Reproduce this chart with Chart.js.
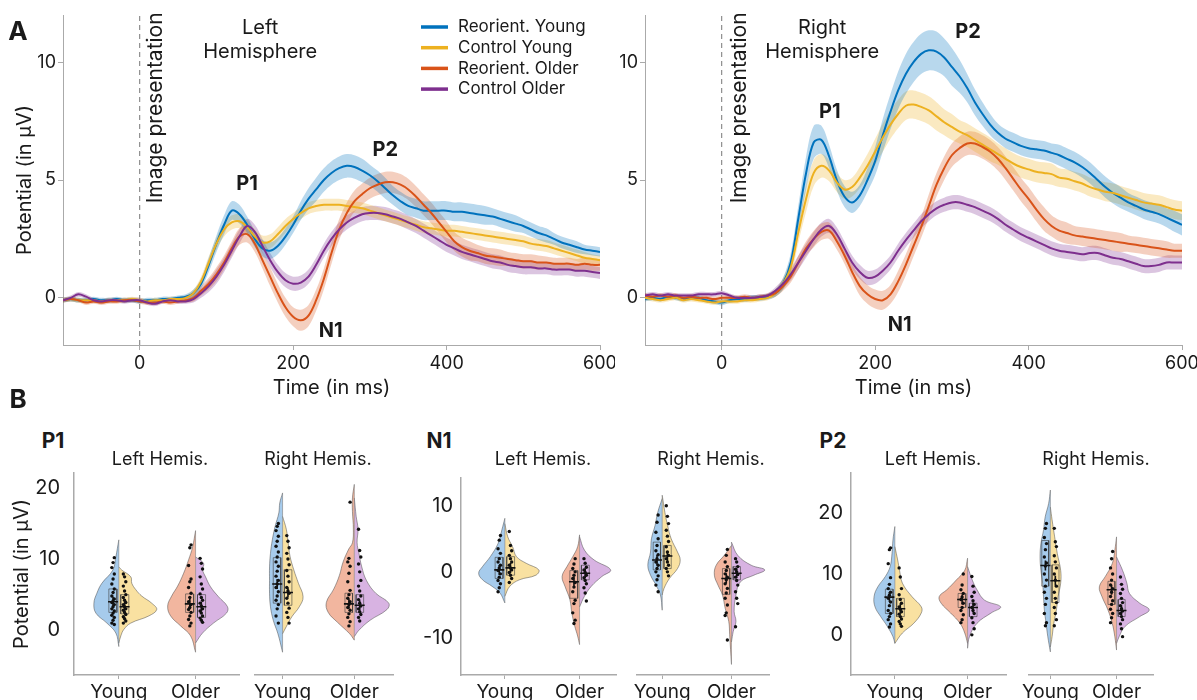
<!DOCTYPE html>
<html>
<head>
<meta charset="utf-8">
<script src="https://cdn.jsdelivr.net/npm/chart.js@4.4.1/dist/chart.umd.min.js"></script>
<style>
  body { margin: 0; background: #fff; font-family: Inter, "Noto Sans", sans-serif; }
  #fig { position: relative; width: 1197px; height: 700px; overflow: hidden; }
  canvas { position: absolute; }
  .lbl { position: absolute; color: #1a1a1a; white-space: nowrap; transform: translate(-50%, -50%); }
  .big { font-size: 26px; font-weight: 700; }
  .peak { font-size: 21px; font-weight: 700; }
  .hem { font-size: 18px; }
</style>
</head>
<body>
<div id="fig">
  <canvas id="waveL" width="615" height="400" style="left:0;top:0"></canvas>
  <canvas id="waveR" width="597" height="400" style="left:600px;top:0"></canvas>

  <canvas id="p1L" width="246" height="235" style="left:0;top:465px"></canvas>
  <canvas id="p1R" width="152" height="235" style="left:248px;top:465px"></canvas>
  <canvas id="n1L" width="213" height="235" style="left:410px;top:465px"></canvas>
  <canvas id="n1R" width="146" height="235" style="left:630px;top:465px"></canvas>
  <canvas id="p2L" width="208" height="235" style="left:805px;top:465px"></canvas>
  <canvas id="p2R" width="138" height="235" style="left:1022px;top:465px"></canvas>

  <div class="lbl big" style="left:18px;top:30px">A</div>
  <div class="lbl big" style="left:18px;top:398px">B</div>
  <div class="lbl peak" style="left:53px;top:440px">P1</div>
  <div class="lbl peak" style="left:439px;top:440px">N1</div>
  <div class="lbl peak" style="left:833px;top:440px">P2</div>
  <div class="lbl hem" style="left:160px;top:458px">Left Hemis.</div>
  <div class="lbl hem" style="left:318px;top:458px">Right Hemis.</div>
  <div class="lbl hem" style="left:543px;top:458px">Left Hemis.</div>
  <div class="lbl hem" style="left:711px;top:458px">Right Hemis.</div>
  <div class="lbl hem" style="left:933px;top:458px">Left Hemis.</div>
  <div class="lbl hem" style="left:1096px;top:458px">Right Hemis.</div>
</div>

<script>
// ---------- panel A : grand averages ----------
const times = [-100,-90,-80,-70,-60,-50,-40,-30,-20,-10,
  0,10,20,30,40,50,60,70,80,90,
  100,110,120,130,140,150,160,170,180,190,
  200,210,220,230,240,250,260,270,280,290,
  300,310,320,330,340,350,360,370,380,390,
  400,410,420,430,440,450,460,470,480,490,
  500,510,520,530,540,550,560,570,580,590,
  600];

const condNames = ['Reorient. Young', 'Control Young', 'Reorient. Older', 'Control Older'];
const onsetTime = 0;

// left hemisphere
const leftReorYoung = [-0.1,-0.05,-0.1,-0.1,-0.05,-0.1,-0.1,-0.05,-0.1,-0.1,
  -0.15,-0.1,-0.1,-0.05,-0.05,0,0.05,0.2,0.6,1.4,
  2.3,3.1,3.7,3.55,3.1,2.5,2.1,2.0,2.2,2.6,
  3.1,3.7,4.2,4.6,5.0,5.3,5.5,5.6,5.55,5.4,
  5.2,4.95,4.65,4.35,4.1,3.9,3.8,3.7,3.7,3.7,
  3.7,3.65,3.65,3.6,3.55,3.5,3.45,3.35,3.25,3.15,
  3.05,2.9,2.75,2.65,2.5,2.35,2.25,2.15,2.05,2.0,
  1.95];
const leftCtrlYoung = [-0.1,-0.05,-0.1,-0.1,-0.1,-0.15,-0.1,-0.1,-0.1,-0.05,
  -0.1,-0.15,-0.1,-0.1,-0.05,-0.05,0,0.2,0.7,1.5,
  2.3,2.9,3.2,3.25,3.0,2.6,2.35,2.4,2.7,3.05,
  3.35,3.6,3.8,3.9,3.95,3.95,3.95,3.9,3.85,3.8,
  3.7,3.6,3.5,3.4,3.3,3.2,3.1,3.0,2.95,2.9,
  2.85,2.85,2.8,2.75,2.7,2.65,2.6,2.55,2.5,2.45,
  2.4,2.3,2.25,2.2,2.1,2.0,1.9,1.8,1.7,1.65,
  1.6];
const leftReorOlder = [-0.1,-0.05,-0.1,-0.2,-0.15,-0.2,-0.15,-0.15,-0.1,-0.1,
  -0.15,-0.2,-0.2,-0.15,-0.2,-0.15,-0.1,0.0,0.3,0.6,
  1.0,1.5,2.1,2.6,2.7,2.3,1.6,0.9,0.2,-0.4,
  -0.8,-0.95,-0.75,-0.1,0.8,1.9,2.9,3.6,4.1,4.4,
  4.65,4.8,4.9,4.9,4.8,4.6,4.3,3.95,3.6,3.2,
  2.8,2.4,2.15,2.0,1.9,1.8,1.75,1.7,1.65,1.6,
  1.55,1.55,1.5,1.5,1.45,1.45,1.45,1.4,1.45,1.4,
  1.4];
const leftCtrlOlder = [-0.1,0.0,0.15,0.05,-0.1,-0.15,-0.1,-0.1,-0.15,-0.1,
  -0.1,-0.2,-0.25,-0.15,-0.1,-0.15,-0.15,-0.05,0.2,0.5,
  0.9,1.4,2.0,2.6,3.05,2.8,2.2,1.6,1.1,0.75,
  0.6,0.65,0.9,1.4,2.0,2.5,2.9,3.2,3.4,3.55,
  3.6,3.6,3.55,3.45,3.35,3.2,3.05,2.85,2.65,2.45,
  2.25,2.1,1.95,1.85,1.75,1.65,1.55,1.5,1.4,1.35,
  1.3,1.3,1.25,1.25,1.2,1.2,1.2,1.15,1.15,1.1,
  1.05];

// right hemisphere
const rightReorYoung = [-0.05,0.0,-0.05,0.05,0.0,-0.05,0.0,0.0,-0.1,-0.15,
  -0.2,-0.1,-0.05,-0.05,0.0,0.0,0.05,0.2,0.6,1.5,
  3.4,5.3,6.6,6.7,6.0,5.0,4.3,4.05,4.35,5.0,
  5.8,6.9,7.9,8.8,9.5,10.0,10.35,10.5,10.45,10.2,
  9.8,9.4,8.9,8.3,7.8,7.35,7.0,6.75,6.6,6.45,
  6.35,6.3,6.25,6.15,6.05,5.9,5.75,5.55,5.3,5.0,
  4.7,4.45,4.25,4.05,3.9,3.75,3.65,3.55,3.4,3.25,
  3.1];
const rightCtrlYoung = [0.0,-0.05,-0.1,-0.05,0.0,-0.1,-0.05,-0.1,-0.15,-0.2,
  -0.15,-0.15,-0.15,-0.1,-0.1,-0.05,0.0,0.2,0.6,1.3,
  2.8,4.2,5.3,5.6,5.4,4.9,4.6,4.7,5.1,5.6,
  6.2,6.8,7.35,7.8,8.15,8.2,8.1,7.95,7.7,7.45,
  7.25,7.05,6.9,6.7,6.5,6.3,6.1,5.9,5.7,5.55,
  5.45,5.35,5.3,5.25,5.1,5.05,4.95,4.85,4.7,4.6,
  4.5,4.45,4.35,4.25,4.15,4.05,4.0,3.95,3.85,3.75,
  3.7];
const rightReorOlder = [0.1,0.05,0.1,0.05,0.1,0.0,0.05,0.0,0.0,-0.05,
  0.0,0.0,0.0,0.05,0.0,0.05,0.1,0.2,0.5,0.9,
  1.5,2.1,2.5,2.8,2.85,2.4,1.8,1.1,0.5,0.15,
  -0.05,-0.1,0.15,0.7,1.4,2.2,3.0,3.9,4.8,5.5,
  6.05,6.35,6.55,6.55,6.4,6.2,5.9,5.5,5.05,4.6,
  4.2,3.75,3.35,3.05,2.85,2.75,2.65,2.6,2.55,2.5,
  2.45,2.4,2.35,2.3,2.25,2.2,2.15,2.1,2.05,2.0,
  2.0];
const rightCtrlOlder = [0.1,0.15,0.1,0.15,0.1,0.1,0.1,0.15,0.15,0.15,
  0.2,0.1,0.0,0.0,0.0,0.05,0.1,0.3,0.6,1.0,
  1.5,2.0,2.5,2.9,3.05,2.7,2.1,1.5,1.1,0.85,
  0.9,1.15,1.5,2.0,2.45,2.85,3.25,3.55,3.8,3.95,
  4.05,4.05,3.95,3.85,3.7,3.55,3.35,3.1,2.9,2.7,
  2.55,2.4,2.25,2.1,2.0,1.95,1.9,1.85,1.9,1.9,
  1.8,1.7,1.65,1.55,1.45,1.35,1.35,1.4,1.5,1.5,
  1.5];

// standard errors (half width of the shaded bands)
const leftReorYoungSE = [0.1,0.1,0.1,0.1,0.1,0.1,0.1,0.1,0.1,0.1,
  0.1,0.1,0.1,0.1,0.1,0.1,0.1,0.15,0.2,0.3,
  0.35,0.4,0.4,0.4,0.35,0.35,0.35,0.35,0.35,0.35,
  0.35,0.4,0.45,0.5,0.5,0.5,0.5,0.5,0.5,0.5,
  0.45,0.45,0.45,0.4,0.4,0.4,0.4,0.4,0.4,0.4,
  0.4,0.4,0.4,0.4,0.4,0.4,0.35,0.35,0.35,0.35,
  0.3,0.3,0.3,0.3,0.25,0.25,0.25,0.25,0.2,0.2,
  0.2];
const leftCtrlYoungSE = [0.1,0.1,0.1,0.1,0.1,0.1,0.1,0.1,0.1,0.1,
  0.1,0.1,0.1,0.1,0.1,0.1,0.1,0.15,0.2,0.25,
  0.25,0.3,0.3,0.3,0.3,0.3,0.3,0.3,0.3,0.3,
  0.25,0.25,0.25,0.25,0.25,0.25,0.25,0.25,0.25,0.25,
  0.25,0.25,0.25,0.25,0.25,0.25,0.25,0.25,0.25,0.25,
  0.25,0.25,0.25,0.25,0.25,0.25,0.25,0.25,0.25,0.25,
  0.25,0.25,0.25,0.25,0.25,0.25,0.25,0.25,0.25,0.2,
  0.2];
const leftReorOlderSE = [0.1,0.1,0.1,0.1,0.1,0.1,0.1,0.1,0.1,0.1,
  0.1,0.1,0.1,0.1,0.1,0.1,0.1,0.15,0.2,0.25,
  0.3,0.3,0.3,0.35,0.35,0.35,0.35,0.4,0.4,0.4,
  0.4,0.45,0.45,0.45,0.45,0.45,0.45,0.45,0.45,0.45,
  0.45,0.45,0.45,0.45,0.45,0.45,0.45,0.45,0.45,0.45,
  0.45,0.4,0.4,0.4,0.35,0.35,0.35,0.35,0.3,0.3,
  0.3,0.3,0.3,0.25,0.25,0.25,0.25,0.25,0.25,0.25,
  0.25];
const leftCtrlOlderSE = [0.1,0.1,0.1,0.1,0.1,0.1,0.1,0.1,0.1,0.1,
  0.1,0.1,0.1,0.1,0.1,0.1,0.1,0.15,0.2,0.25,
  0.3,0.3,0.3,0.3,0.3,0.3,0.3,0.3,0.3,0.3,
  0.3,0.3,0.3,0.3,0.3,0.3,0.3,0.3,0.3,0.3,
  0.3,0.3,0.3,0.3,0.3,0.3,0.3,0.3,0.3,0.3,
  0.3,0.3,0.3,0.3,0.3,0.3,0.3,0.3,0.3,0.3,
  0.3,0.3,0.25,0.25,0.25,0.25,0.25,0.25,0.25,0.25,
  0.25];
const rightReorYoungSE = [0.1,0.1,0.1,0.1,0.1,0.1,0.1,0.1,0.1,0.1,
  0.12,0.12,0.12,0.12,0.12,0.12,0.12,0.15,0.25,0.4,
  0.55,0.7,0.7,0.6,0.5,0.45,0.45,0.45,0.45,0.5,
  0.6,0.7,0.75,0.8,0.85,0.85,0.85,0.85,0.85,0.8,
  0.8,0.7,0.6,0.55,0.5,0.45,0.4,0.4,0.4,0.4,
  0.4,0.4,0.4,0.4,0.45,0.45,0.45,0.45,0.45,0.45,
  0.45,0.45,0.45,0.4,0.4,0.4,0.4,0.4,0.4,0.45,
  0.45];
const rightCtrlYoungSE = [0.1,0.1,0.1,0.1,0.1,0.1,0.1,0.1,0.1,0.1,
  0.1,0.1,0.1,0.1,0.1,0.1,0.1,0.15,0.25,0.35,
  0.45,0.55,0.55,0.5,0.45,0.4,0.4,0.4,0.45,0.5,
  0.55,0.6,0.6,0.6,0.6,0.6,0.6,0.6,0.6,0.55,
  0.55,0.5,0.5,0.5,0.5,0.5,0.45,0.45,0.45,0.45,
  0.45,0.45,0.45,0.45,0.4,0.4,0.4,0.4,0.4,0.4,
  0.4,0.4,0.4,0.4,0.4,0.4,0.4,0.4,0.4,0.4,
  0.4];
const rightReorOlderSE = [0.1,0.1,0.1,0.1,0.1,0.1,0.1,0.1,0.1,0.1,
  0.1,0.1,0.1,0.1,0.1,0.1,0.1,0.15,0.2,0.25,
  0.3,0.3,0.35,0.35,0.35,0.35,0.35,0.35,0.4,0.4,
  0.4,0.4,0.4,0.45,0.45,0.45,0.45,0.5,0.5,0.5,
  0.5,0.5,0.5,0.5,0.5,0.5,0.5,0.5,0.5,0.5,
  0.5,0.5,0.5,0.45,0.45,0.45,0.4,0.4,0.4,0.4,
  0.4,0.4,0.4,0.35,0.35,0.35,0.35,0.35,0.35,0.3,
  0.3];
const rightCtrlOlderSE = [0.1,0.1,0.1,0.1,0.1,0.1,0.1,0.1,0.1,0.1,
  0.1,0.1,0.1,0.1,0.1,0.1,0.1,0.15,0.2,0.25,
  0.3,0.3,0.3,0.3,0.3,0.3,0.3,0.3,0.3,0.3,
  0.3,0.3,0.3,0.3,0.3,0.3,0.3,0.3,0.3,0.3,
  0.3,0.3,0.3,0.3,0.3,0.3,0.3,0.3,0.3,0.3,
  0.3,0.3,0.3,0.3,0.3,0.3,0.3,0.3,0.3,0.3,
  0.3,0.3,0.3,0.3,0.3,0.3,0.3,0.3,0.3,0.3,
  0.3];

// text placed in data coordinates (time, µV)
const leftNotes = [
  { text: 'Left', t: 157, v: 11.45 },
  { text: 'Hemisphere', t: 157, v: 10.43 },
  { text: 'Image presentation', t: 21, v: 8.06, rotate: true },
  { text: 'P1', t: 140, v: 4.83, bold: true },
  { text: 'P2', t: 320, v: 6.27, bold: true },
  { text: 'N1', t: 249, v: -1.4, bold: true }
];
const rightNotes = [
  { text: 'Right', t: 131, v: 11.45 },
  { text: 'Hemisphere', t: 131, v: 10.43 },
  { text: 'Image presentation', t: 24, v: 8.06, rotate: true },
  { text: 'P1', t: 141, v: 7.89, bold: true },
  { text: 'P2', t: 321, v: 11.28, bold: true },
  { text: 'N1', t: 232, v: -1.15, bold: true }
];

// ---------- panel B : single subject peaks ----------
const groups = ['Young', 'Older'];
// densities: [µV, half width], bottom to top
const p1L_RY_dens = [[-2.3,0],[-0.4,3],[1.0,12],[2.4,23],[3.8,25],[5.2,22],[6.6,17],[8.45,6],[10.3,3],[12.7,0]];
const p1L_CY_dens = [[-1.8,0],[-0.8,2],[0.1,5],[1.0,12],[2.0,30],[2.9,38],[3.8,33],[4.8,23],[5.7,17],[6.6,13],[7.5,12],[8.45,3],[8.9,0]];
const p1L_RO_dens = [[-3.1,0],[-0.8,5],[0.6,15],[2.0,25],[3.4,28],[4.8,24],[6.2,18],[8.0,12],[9.9,7],[11.7,3],[14.0,0]];
const p1L_CO_dens = [[-1.8,0],[-0.4,7],[1.0,18],[2.4,31],[3.3,32],[4.7,23],[6.1,15],[7.5,10],[8.5,7],[9.4,8],[10.3,0]];
const p1R_RY_dens = [[-3.1,0],[-0.5,5],[1.4,10],[3.3,13],[5.2,14],[7.0,14],[8.9,14],[10.8,13],[12.7,11],[14.6,8],[16.5,4],[17.9,3],[19.3,0]];
const p1R_CY_dens = [[-0.5,0],[0.5,4],[1.9,10],[3.3,18],[4.7,22],[6.6,17],[8.5,12],[10.4,8],[12.3,6],[14.2,4],[16.0,0]];
const p1R_RO_dens = [[-1.4,0],[-0.5,5],[1.1,18],[2.5,28],[3.9,30],[5.8,22],[7.7,16],[9.6,12],[11.4,6],[12.3,2],[14.2,1],[16.7,2],[18.6,2],[20.5,0]];
const p1R_CO_dens = [[-0.9,0],[0.0,5],[1.4,17],[2.9,35],[3.8,37],[5.2,23],[7.0,13],[8.9,8],[10.8,5],[12.3,3],[14.2,4],[16.0,2],[18.6,0]];
const n1L_RY_dens = [[-4.7,0],[-3.2,5],[-2.2,13],[-1.2,23],[-0.2,27],[0.8,23],[2.3,15],[4.3,7],[6.4,3],[8.1,0]];
const n1L_CY_dens = [[-3.7,0],[-2.2,5],[-1.2,15],[-0.5,32],[0.3,35],[1.3,22],[2.3,12],[3.8,8],[5.3,3],[7.3,0]];
const n1L_RO_dens = [[-11.0,0],[-9.7,2],[-8.2,5],[-6.2,8],[-4.2,10],[-2.2,15],[-0.7,18],[0.8,13],[2.3,7],[3.8,2],[5.6,0]];
const n1L_CO_dens = [[-5.3,0],[-3.7,5],[-2.2,12],[-0.7,23],[0.3,32],[1.8,15],[3.3,5],[5.3,0]];
const n1R_RY_dens = [[-5.8,0],[-3.5,2],[-2.0,7],[-0.5,13],[1.0,16],[3.0,13],[5.0,12],[7.0,8],[9.0,5],[11.1,0]];
const n1R_CY_dens = [[-3.5,0],[-2.5,2],[-1.0,8],[0.5,17],[1.8,20],[3.0,17],[5.0,10],[7.0,6],[9.0,3],[11.6,0]];
const n1R_RO_dens = [[-14.0,0],[-9.5,2],[-7.5,3],[-5.5,7],[-3.5,10],[-2.0,15],[-0.5,19],[1.0,17],[2.5,8],[4.0,0]];
const n1R_CO_dens = [[-10.6,0],[-9.0,2],[-7.5,5],[-6.0,3],[-3.5,5],[-1.5,10],[-0.5,25],[0.3,37],[1.0,22],[2.5,7],[4.5,0]];
const p2L_RY_dens = [[-1.4,0],[-0.3,2],[1.4,8],[3.0,15],[4.6,21],[6.3,22],[7.9,18],[9.6,10],[11.2,5],[13.4,3],[15.6,2],[17.8,0]];
const p2L_CY_dens = [[-1.4,0],[0.3,8],[1.9,20],[3.6,28],[4.6,28],[6.3,18],[8.5,8],[10.6,5],[12.3,3],[14.5,0]];
const p2L_RO_dens = [[-1.4,0],[0.3,3],[1.9,8],[3.6,18],[5.2,28],[6.3,30],[7.4,22],[9.0,12],[10.6,3],[12.6,0]];
const p2L_CO_dens = [[-2.2,0],[-0.3,2],[1.9,10],[3.6,25],[4.6,35],[5.7,18],[7.4,10],[9.0,5],[11.2,0]];
const p2R_RY_dens = [[-2.8,0],[-0.3,3],[1.9,5],[4.1,7],[6.3,8],[8.5,9],[10.6,11],[12.8,12],[15.0,11],[17.2,8],[19.4,6],[21.6,2],[23.8,0]];
const p2R_CY_dens = [[-2.0,0],[-0.3,2],[1.9,4],[4.1,7],[6.3,9],[8.5,12],[10.6,12],[13.4,8],[16.1,5],[18.9,2],[21.0,0]];
const p2R_RO_dens = [[-2.5,0],[-0.3,2],[1.9,5],[4.1,10],[6.3,17],[7.9,20],[9.6,13],[11.7,5],[13.9,2],[16.1,0]];
const p2R_CO_dens = [[-1.4,0],[-0.3,3],[1.4,10],[3.0,27],[4.1,38],[5.2,27],[6.8,15],[8.5,12],[10.6,7],[12.8,0]];

// individual subjects
const p1L_RY_dots = [10.2,9.5,8.8,7.9,7.2,6.5,5.8,5.3,4.8,4.4,4.1,3.9,3.6,3.3,3.0,2.7,2.4,2.1,1.8,1.4,1.0,0.8];
const p1L_CY_dots = [7.9,7.5,6.8,6.2,5.5,5.0,4.6,4.2,3.9,3.6,3.3,3.0,2.8,2.5,2.2,1.9,1.6,1.3,1.0];
const p1L_RO_dots = [12.0,11.6,9.1,7.2,6.8,6.0,5.2,4.6,4.0,3.6,3.2,2.9,2.5,2.0,1.5,1.0,0.6];
const p1L_CO_dots = [10.1,9.4,8.6,7.5,6.5,5.8,5.1,4.6,4.2,3.8,3.4,3.0,2.7,2.4,2.0,1.7,1.4,1.1];
const p1R_RY_dots = [15.0,14.6,14.0,13.2,12.5,11.8,11.0,10.3,9.6,9.0,8.3,7.6,7.0,6.5,6.0,5.4,4.8,4.2,3.6,3.0,2.0,1.0];
const p1R_CY_dots = [13.3,12.5,11.6,10.8,10.0,9.2,8.4,7.6,6.8,6.0,5.5,5.2,4.5,3.8,3.1,2.5,1.8,1.0];
const p1R_RO_dots = [18.0,10.1,9.6,9.0,8.0,6.8,5.6,5.0,4.5,4.0,3.6,3.2,2.8,2.3,1.8,1.2,0.6];
const p1R_CO_dots = [14.2,11.2,10.3,9.3,8.2,7.0,6.2,5.5,4.8,4.3,3.8,3.4,3.0,2.6,2.2,1.8,1.3];
const n1L_RY_dots = [5.5,4.8,3.5,2.8,2.0,1.5,1.0,0.6,0.2,-0.3,-0.8,-1.3,-1.8,-2.4,-3.0];
const n1L_CY_dots = [6.1,4.0,3.2,2.5,2.0,1.5,1.0,0.6,0.3,-0.1,-0.5,-1.0,-1.6];
const n1L_RO_dots = [2.0,1.2,0.5,0,-0.5,-1.0,-1.6,-2.3,-3.0,-4.3,-4.8,-6.2,-7.3,-7.8];
const n1L_CO_dots = [2.0,1.3,0.7,0.3,-0.1,-0.5,-0.9,-1.3,-1.8,-2.4,-3.2,-4.4];
const n1R_RY_dots = [8.6,7.5,6.0,5.0,4.0,3.2,2.6,2.0,1.5,1.0,0.5,0,-0.6,-1.2,-2.0,-3.0];
const n1R_CY_dots = [10.0,8.4,7.3,6.3,5.4,4.6,3.8,3.0,2.5,2.0,1.5,1.0,0.5,0,-0.6];
const n1R_RO_dots = [3.4,2.5,1.5,0.8,0.2,-0.3,-0.8,-1.2,-1.8,-2.5,-3.2,-4.0,-5.0,-6.2,-6.6,-10.3];
const n1R_CO_dots = [2.0,1.5,0.8,0.4,0,-0.4,-0.8,-1.3,-2.0,-3.0,-4.0,-4.8,-8.3];
const p2L_RY_dots = [14.3,14.0,11.7,9.4,8.3,7.6,7.0,6.5,6.0,5.4,4.8,4.0,3.5,3.0,2.5,1.8,1.3];
const p2L_CY_dots = [11.0,9.5,7.6,6.6,5.8,5.2,4.6,4.2,3.8,3.4,3.0,2.6,2.2,1.8,1.4];
const p2L_RO_dots = [10.0,8.2,7.4,6.8,6.2,5.8,5.2,4.5,4.0,3.3,2.5,2.0];
const p2L_CO_dots = [9.6,8.0,7.0,6.3,5.6,5.0,4.5,4.0,3.5,2.8,2.0,1.0,0.0];
const p2R_RY_dots = [18.3,17.5,16.0,15.0,14.0,12.8,11.8,11.3,10.0,9.0,8.0,7.0,6.0,5.0,3.5,2.0,1.5];
const p2R_CY_dots = [17.5,15.3,14.5,13.0,12.0,11.0,10.0,9.0,8.0,7.0,6.0,5.3,4.5,3.5,2.5,1.5];
const p2R_RO_dots = [13.7,12.5,11.0,10.0,9.0,8.2,7.6,7.0,6.3,5.6,5.0,4.2,3.5,2.8,2.0];
const p2R_CO_dots = [9.5,8.3,7.5,6.8,6.0,5.3,4.8,4.3,3.9,3.5,3.0,2.5,1.8,1.0,-0.3];

// box: [q1, mean, q3]
const p1L_RY_box = [2.5,4.0,5.8], p1L_CY_box = [2.3,3.3,5.0], p1L_RO_box = [2.5,3.7,5.1], p1L_CO_box = [1.8,3.3,5.0];
const p1R_RY_box = [3.8,6.5,10.2], p1R_CY_box = [3.5,5.3,8.5], p1R_RO_box = [2.5,3.7,5.2], p1R_CO_box = [2.5,3.5,5.0];
const n1L_RY_box = [-1.0,0.3,2.2], n1L_CY_box = [-0.5,0.6,2.3], n1L_RO_box = [-4.0,-1.5,0.2], n1L_CO_box = [-1.2,-0.2,1.0];
const n1R_RY_box = [0.3,1.8,4.5], n1R_CY_box = [0.5,2.4,4.0], n1R_RO_box = [-3.4,-1.0,0.5], n1R_CO_box = [-1.2,-0.2,0.8];
const p2L_RY_box = [3.5,6.2,7.5], p2L_CY_box = [3.0,4.3,6.0], p2L_RO_box = [4.5,5.8,6.8], p2L_CO_box = [3.0,4.5,5.2];
const p2R_RY_box = [8.0,11.4,15.5], p2R_CY_box = [5.3,8.9,11.5], p2R_RO_box = [5.0,7.4,8.8], p2R_CO_box = [3.0,4.0,5.8];

// ---------- styles ----------
Chart.defaults.font.family = 'Inter, "Noto Sans", sans-serif';
Chart.defaults.color = '#1a1a1a';

const lineColors = ['#0072BD', '#EDB120', '#D95319', '#7E2F8E'];
const bandColors = ['rgba(0,114,189,0.28)', 'rgba(237,177,32,0.28)', 'rgba(217,83,25,0.28)', 'rgba(126,47,142,0.28)'];
const halfFill = { RY: '#a6cbec', CY: '#f9e1a1', RO: '#f2b69f', CO: '#d8b3e2' };
const AXIS = '#aaaaaa';
const NONE = 'rgba(0,0,0,0)';
const VIOLIN_SCALE = 1 / 77;
const DOT_OFF = 0.075, DOT_JIT = 0.016, BOX_IN = 0.025, BOX_OUT = 0.13;

const notesPlugin = {
  id: 'notes',
  afterDraw(chart, args, opts) {
    const { ctx, scales: { x, y } } = chart;
    ctx.save();
    ctx.fillStyle = '#1a1a1a';
    ctx.textAlign = 'center';
    ctx.textBaseline = 'middle';
    (opts.items || []).forEach(n => {
      const px = x.getPixelForValue(n.t), py = y.getPixelForValue(n.v);
      if (n.rotate) {
        ctx.font = '21px ' + Chart.defaults.font.family;
        ctx.save();
        ctx.translate(px, py);
        ctx.rotate(-Math.PI / 2);
        ctx.fillText(n.text, 0, 0);
        ctx.restore();
      } else {
        ctx.font = (n.bold ? '700 20px ' : '20px ') + Chart.defaults.font.family;
        ctx.fillText(n.text, px, py);
      }
    });
    ctx.restore();
  }
};

const legendPlugin = {
  id: 'waveLegend',
  afterDraw(chart) {
    const { ctx, chartArea } = chart;
    ctx.save();
    ctx.font = '17px ' + Chart.defaults.font.family;
    ctx.textBaseline = 'middle';
    condNames.forEach((name, i) => {
      const yy = chartArea.top + 12 + i * 20.7;
      const xx = chartArea.left + 358;
      ctx.strokeStyle = lineColors[i];
      ctx.lineWidth = 3.5;
      ctx.beginPath(); ctx.moveTo(xx, yy); ctx.lineTo(xx + 27, yy); ctx.stroke();
      ctx.fillStyle = '#1a1a1a';
      ctx.fillText(name, xx + 37, yy);
    });
    ctx.restore();
  }
};

// stop Chart.js from growing margins for tick labels: the layout here is fixed
function noPad(s) { s.paddingTop = 0; s.paddingBottom = 0; s.paddingLeft = 0; s.paddingRight = 0; }

function waveChart(id, means, ses, opts) {
  const datasets = [];
  means.forEach((m, k) => {
    datasets.push({ data: times.map((t, i) => ({ x: t, y: m[i] + ses[k][i] })), fill: '+1',
      backgroundColor: bandColors[k], borderColor: NONE, borderWidth: 0, pointRadius: 0, tension: 0.35 });
    datasets.push({ data: times.map((t, i) => ({ x: t, y: m[i] - ses[k][i] })), fill: false,
      backgroundColor: NONE, borderColor: NONE, borderWidth: 0, pointRadius: 0, tension: 0.35 });
  });
  // control older last in the legend but drawn on top
  [3, 2, 1, 0].forEach(k => datasets.push({
    data: times.map((t, i) => ({ x: t, y: means[k][i] })), fill: false,
    borderColor: lineColors[k], borderWidth: 2, pointRadius: 0, tension: 0.35
  }));
  datasets.push({ data: [{ x: onsetTime, y: -2 }, { x: onsetTime, y: 12 }], fill: false,
    borderColor: '#777', borderWidth: 1, borderDash: [5, 4], pointRadius: 0, tension: 0 });

  new Chart(document.getElementById(id), {
    type: 'line',
    data: { datasets },
    plugins: opts.legend ? [notesPlugin, legendPlugin] : [notesPlugin],
    options: {
      responsive: false, animation: false, events: [],
      layout: { padding: { top: 15, right: 15, left: 0, bottom: 0 } },
      plugins: {
        legend: { display: false }, tooltip: { enabled: false },
        filler: { drawTime: 'beforeDatasetsDraw' },
        notes: { items: opts.notes }
      },
      scales: {
        x: {
          type: 'linear', min: -100, max: 600,
          afterBuildTicks: s => { s.ticks = [0, 200, 400, 600].map(v => ({ value: v })); },
          afterFit: s => { s.height = 55; noPad(s); },
          ticks: { font: { size: 18 }, padding: 3, maxRotation: 0 },
          grid: { drawOnChartArea: false, color: AXIS, tickLength: 5 },
          border: { color: AXIS, width: 1 },
          title: { display: true, text: 'Time (in ms)', font: { size: 20 }, padding: { top: 0, bottom: 0 } }
        },
        y: {
          min: -2, max: 12,
          afterBuildTicks: s => { s.ticks = [0, 5, 10].map(v => ({ value: v })); },
          afterFit: s => { s.width = opts.yWidth; noPad(s); },
          ticks: { font: { size: 18 }, padding: 2 },
          grid: { drawOnChartArea: false, color: AXIS, tickLength: 5 },
          border: { color: AXIS, width: 1 },
          title: { display: opts.yTitle, text: 'Potential (in µV)', font: { size: 20 }, padding: { top: 13, bottom: 0 } }
        }
      }
    }
  });
}

function violinChart(id, spec) {
  const layers = { cross: [], dots: [], boxes: [], shapes: [], ranges: [] };
  spec.halves.forEach(h => {
    const c = h.group, side = h.side;
    layers.shapes.push({ data: h.dens.map(([v, w]) => ({ x: c + side * w * VIOLIN_SCALE, y: v })),
      fill: 'shape', backgroundColor: halfFill[h.cond], borderColor: 'rgba(70,70,70,0.7)',
      borderWidth: 0.7, pointRadius: 0, tension: 0.4 });
    const x0 = c + side * BOX_IN, x1 = c + side * BOX_OUT;
    layers.boxes.push({ data: [{ x: x0, y: h.box[0] }, { x: x1, y: h.box[0] }, { x: x1, y: h.box[2] },
      { x: x0, y: h.box[2] }, { x: x0, y: h.box[0] }], fill: false, borderColor: 'rgba(60,60,60,0.75)',
      borderWidth: 0.8, pointRadius: 0, tension: 0 });
    layers.dots.push({ data: h.dots.map((v, i) => ({ x: c + side * (DOT_OFF + ((i % 3) - 1) * DOT_JIT), y: v })),
      showLine: false, pointRadius: 1.7, pointBackgroundColor: '#111', pointBorderWidth: 0 });
    layers.cross.push({ data: [{ x: c + side * DOT_OFF, y: h.box[1] }], showLine: false,
      pointStyle: 'cross', pointRadius: 5, pointBorderColor: '#111', pointBorderWidth: 1.6 });
  });
  [1, 2].forEach(c => {
    const vals = spec.halves.filter(h => h.group === c).flatMap(h => h.dens.map(d => d[0]));
    layers.ranges.push({ data: [{ x: c, y: Math.min(...vals) }, { x: c, y: Math.max(...vals) }],
      fill: false, borderColor: 'rgba(120,120,120,0.7)', borderWidth: 0.8, pointRadius: 0, tension: 0 });
  });
  const datasets = [...layers.cross, ...layers.dots, ...layers.boxes, ...layers.ranges, ...layers.shapes];

  new Chart(document.getElementById(id), {
    type: 'line',
    data: { datasets },
    options: {
      responsive: false, animation: false, events: [],
      layout: { padding: { top: spec.padTop, right: spec.padRight, left: 0, bottom: 0 } },
      plugins: { legend: { display: false }, tooltip: { enabled: false }, filler: { drawTime: 'beforeDatasetsDraw' } },
      scales: {
        x: {
          type: 'linear', min: spec.xMin, max: spec.xMax,
          afterBuildTicks: s => { s.ticks = [1, 2].map(v => ({ value: v })); },
          afterFit: s => { s.height = 25; noPad(s); },
          ticks: { font: { size: 19 }, padding: 2, maxRotation: 0, autoSkip: false, callback: v => groups[v - 1] },
          grid: { drawOnChartArea: false, color: AXIS, tickLength: 4 },
          border: { color: AXIS, width: 1.5 }
        },
        y: {
          display: spec.showY, min: spec.yMin, max: spec.yMax,
          afterBuildTicks: s => { s.ticks = spec.yTicks.map(v => ({ value: v })); },
          afterFit: s => { s.width = spec.showY ? spec.yWidth : 0; noPad(s); },
          ticks: { font: { size: 20 }, padding: spec.tickPad || 8 },
          grid: { drawOnChartArea: false, drawTicks: false },
          border: { color: AXIS, width: 1.5 },
          title: { display: !!spec.yTitle, text: 'Potential (in µV)', font: { size: 20 }, padding: { top: 10, bottom: 0 } }
        }
      }
    }
  });
}

function halves(dens, dots, box) {
  return [
    { cond: 'RY', group: 1, side: -1, dens: dens[0], dots: dots[0], box: box[0] },
    { cond: 'CY', group: 1, side: 1, dens: dens[1], dots: dots[1], box: box[1] },
    { cond: 'RO', group: 2, side: -1, dens: dens[2], dots: dots[2], box: box[2] },
    { cond: 'CO', group: 2, side: 1, dens: dens[3], dots: dots[3], box: box[3] }
  ];
}

waveChart('waveL', [leftReorYoung, leftCtrlYoung, leftReorOlder, leftCtrlOlder],
  [leftReorYoungSE, leftCtrlYoungSE, leftReorOlderSE, leftCtrlOlderSE],
  { yWidth: 63, yTitle: true, legend: true, notes: leftNotes });
waveChart('waveR', [rightReorYoung, rightCtrlYoung, rightReorOlder, rightCtrlOlder],
  [rightReorYoungSE, rightCtrlYoungSE, rightReorOlderSE, rightCtrlOlderSE],
  { yWidth: 45, yTitle: false, legend: false, notes: rightNotes });

violinChart('p1L', { xMin: 0.416, xMax: 2.571, yMin: -6.3, yMax: 22.1, yTicks: [0, 10, 20], showY: true, yWidth: 74,
  tickPad: 14, padTop: 8, padRight: 6, yTitle: true,
  halves: halves([p1L_RY_dens, p1L_CY_dens, p1L_RO_dens, p1L_CO_dens], [p1L_RY_dots, p1L_CY_dots, p1L_RO_dots, p1L_CO_dots],
    [p1L_RY_box, p1L_CY_box, p1L_RO_box, p1L_CO_box]) });
violinChart('p1R', { xMin: 0.61, xMax: 2.545, yMin: -6.3, yMax: 22.1, yTicks: [0, 10, 20], showY: false,
  padTop: 8, padRight: 3,
  halves: halves([p1R_RY_dens, p1R_CY_dens, p1R_RO_dens, p1R_CO_dens], [p1R_RY_dots, p1R_CY_dots, p1R_RO_dots, p1R_CO_dots],
    [p1R_RY_box, p1R_CY_box, p1R_RO_box, p1R_CO_box]) });
violinChart('n1L', { xMin: 0.413, xMax: 2.493, yMin: -15.6, yMax: 14.2, yTicks: [-10, 0, 10], showY: true, yWidth: 51,
  tickPad: 8, padTop: 13, padRight: 6,
  halves: halves([n1L_RY_dens, n1L_CY_dens, n1L_RO_dens, n1L_CO_dens], [n1L_RY_dots, n1L_CY_dots, n1L_RO_dots, n1L_CO_dots],
    [n1L_RY_box, n1L_CY_box, n1L_RO_box, n1L_CO_box]) });
violinChart('n1R', { xMin: 0.63, xMax: 2.548, yMin: -15.6, yMax: 14.2, yTicks: [-10, 0, 10], showY: false,
  padTop: 13, padRight: 6,
  halves: halves([n1R_RY_dens, n1R_CY_dens, n1R_RO_dens, n1R_CO_dens], [n1R_RY_dots, n1R_CY_dots, n1R_RO_dots, n1R_CO_dots],
    [n1R_RY_box, n1R_CY_box, n1R_RO_box, n1R_CO_box]) });
violinChart('p2L', { xMin: 0.397, xMax: 2.534, yMin: -6.6, yMax: 26.6, yTicks: [0, 10, 20], showY: true, yWidth: 46,
  tickPad: 8, padTop: 8, padRight: 6,
  halves: halves([p2L_RY_dens, p2L_CY_dens, p2L_RO_dens, p2L_CO_dens], [p2L_RY_dots, p2L_CY_dots, p2L_RO_dots, p2L_CO_dots],
    [p2L_RY_box, p2L_CY_box, p2L_RO_box, p2L_CO_box]) });
violinChart('p2R', { xMin: 0.671, xMax: 2.557, yMin: -6.6, yMax: 26.6, yTicks: [0, 10, 20], showY: false,
  padTop: 8, padRight: 6,
  halves: halves([p2R_RY_dens, p2R_CY_dens, p2R_RO_dens, p2R_CO_dens], [p2R_RY_dots, p2R_CY_dots, p2R_RO_dots, p2R_CO_dots],
    [p2R_RY_box, p2R_CY_box, p2R_RO_box, p2R_CO_box]) });
</script>
</body>
</html>
